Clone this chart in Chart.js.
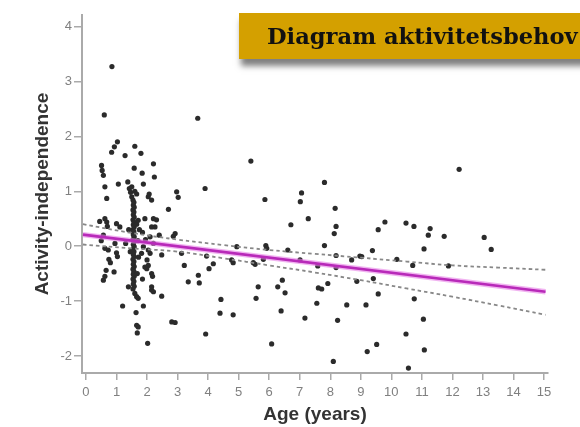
<!DOCTYPE html>
<html><head><meta charset="utf-8">
<script src="https://cdn.jsdelivr.net/npm/chart.js@4.4.1/dist/chart.umd.min.js"></script>
<style>
html,body{margin:0;padding:0;background:#fff;width:580px;height:427px;overflow:hidden}
#wrap{position:relative;width:580px;height:427px}
#c{position:absolute;left:0;top:0}
#banner{position:absolute;left:239px;top:13px;width:380px;height:46px;background:#d4a000;box-shadow:2px 7px 6px rgba(0,0,0,0.5);font-family:'DejaVu Serif',serif;font-weight:bold;font-size:22.6px;line-height:46px;padding-left:28px;box-sizing:border-box;white-space:nowrap;color:#111}
</style></head>
<body><div id="wrap"><canvas id="c" width="580" height="427" style="width:580px;height:427px"></canvas><div id="banner">Diagram aktivitetsbehov</div></div>
<script>
// infants and toddlers 0.4 - 1.4 years
const agesInfant = [0.85,0.60,1.03,0.93,0.84,0.51,0.53,0.57,0.62,0.68,1.06,1.28,0.45,0.62,0.68,0.70,1.00,1.11,0.57,0.62,0.73,0.75,0.80,1.03,1.00,0.66,0.92,0.57,0.62,1.20,1.39,0.50,0.95];
const scoresInfant = [3.27,2.39,1.90,1.81,1.71,1.47,1.38,1.29,1.08,0.87,1.13,1.65,0.45,0.50,0.44,0.36,0.41,0.35,0.20,-0.04,-0.07,-0.24,-0.30,-0.19,-0.12,-0.44,-0.47,-0.62,-0.55,-1.09,-0.74,0.10,0.05];
// 18-month column
const agesColumn = [1.42,1.46,1.50,
 1.54,1.57,1.55,1.58,1.54,1.57,1.55,1.58,1.54,1.57,1.55,1.58,1.54,1.57,1.55,1.58,1.54,1.57,1.55,1.58,1.54,1.57,1.55,1.58,1.54,1.57,1.55,1.58,1.54,1.57,1.55,1.58,1.54,1.57,1.55,1.58,1.54,
 1.60,1.66,1.71,1.64,1.66,1.71,1.68,1.70,1.72,1.66,1.68,1.75];
const scoresColumn = [1.05,0.98,0.90,
 0.84,0.80,0.75,0.71,0.66,0.62,0.57,0.53,0.48,0.44,0.39,0.35,0.30,0.26,0.21,0.17,0.12,0.08,0.03,-0.01,-0.06,-0.10,-0.15,-0.19,-0.24,-0.28,-0.33,-0.37,-0.42,-0.46,-0.51,-0.55,-0.60,-0.64,-0.69,-0.73,-0.78,
 -0.86,-0.92,-0.95,-1.21,-1.44,-1.47,-1.58,0.10,-0.20,0.40,-0.50,0.30];
// around 1.3 - 3.7 years
const agesToddler = [1.37,1.50,1.60,1.66,1.60,1.80,2.21,1.58,1.84,2.24,1.88,2.04,2.15,2.07,2.70,1.71,1.93,2.31,2.26,2.21,2.15,2.10,2.21,2.92,2.86,2.97,3.02,3.66,1.40,1.30,1.45,2.40,1.85,1.95,
 1.88,2.02,2.15,2.21,2.48,2.04,1.99,2.15,2.18,1.93,2.15,2.04,2.10,1.82,1.88,2.48,2.81,2.92,2.00,1.85];
const scoresToddler = [1.17,1.08,1.00,0.95,1.82,1.69,1.50,1.42,1.33,1.26,1.13,0.90,0.84,0.95,0.67,0.47,0.50,0.48,0.35,0.50,0.35,0.17,0.05,0.23,0.18,0.99,0.89,2.33,0.30,0.05,-0.10,0.20,0.25,0.12,
 -1.09,-1.77,-0.80,-0.83,-0.91,-0.35,-0.41,-0.50,-0.55,-0.38,-0.74,-0.07,-0.13,-0.13,-0.01,-0.16,-1.38,-1.39,-0.25,-0.60];
// 3 - 9 years
const agesChild = [5.40,3.90,7.81,7.06,7.02,5.86,8.16,7.28,6.71,8.19,8.13,7.81,5.89,5.92,4.94,6.61,8.19,8.97,8.70,3.13,3.95,4.77,4.82,5.48,5.54,5.81,7.01,7.59,8.19,3.22,4.17,4.03,8.87,3.68,3.71,3.35,5.64,6.43,6.28,6.52,7.61,7.72,7.92,5.57,4.42,7.56,8.54,4.39,4.82,6.39,7.17,8.24,3.92,6.08,8.10];
const scoresChild = [1.55,1.05,1.16,0.97,0.81,0.85,0.69,0.50,0.39,0.36,0.23,0.01,0.01,-0.04,-0.01,-0.07,-0.17,-0.18,-0.25,-0.13,-0.18,-0.25,-0.30,-0.30,-0.33,-0.24,-0.25,-0.36,-0.39,-0.35,-0.32,-0.41,-0.64,-0.53,-0.67,-0.65,-0.74,-0.62,-0.74,-0.85,-0.76,-0.78,-0.68,-0.95,-0.97,-1.04,-1.07,-1.22,-1.25,-1.18,-1.31,-1.35,-1.60,-1.78,-2.10];
// 9 - 13.5 years
const agesOlder = [12.22,9.79,9.57,10.48,10.74,11.27,11.21,11.73,13.04,13.27,9.38,11.07,9.03,10.18,10.70,11.87,9.41,9.57,9.17,10.75,11.05,10.48,9.52,9.21,11.08,10.56];
const scoresOlder = [1.40,0.44,0.30,0.42,0.36,0.32,0.20,0.18,0.16,-0.06,-0.08,-0.05,-0.19,-0.24,-0.35,-0.36,-0.59,-0.87,-1.07,-0.96,-1.33,-1.60,-1.79,-1.92,-1.89,-2.22];

const fitAges = [-0.1, 15.05];
const fitValues = [0.21, -0.83];
const bandAges = [-0.1, 1.5, 3, 4.5, 6, 7.5, 9, 10.5, 12, 13.5, 15.05];
const upperBand = [0.40, 0.24, 0.12, 0.02, -0.07, -0.14, -0.21, -0.28, -0.35, -0.39, -0.43];
const lowerBand = [0.03, -0.04, -0.10, -0.22, -0.35, -0.48, -0.62, -0.77, -0.92, -1.08, -1.25];
const xTicks = [0,1,2,3,4,5,6,7,8,9,10,11,12,13,14,15];
const yTicks = [-2,-1,0,1,2,3,4];

const ages = [].concat(agesInfant, agesColumn, agesToddler, agesChild, agesOlder);
const scores = [].concat(scoresInfant, scoresColumn, scoresToddler, scoresChild, scoresOlder);
const pts = ages.map((a,i)=>({x:a,y:scores[i]}));
const toXY = (xs,ys)=>xs.map((x,i)=>({x:x,y:ys[i]}));
const tickFont = {family:"'Liberation Sans', Arial, sans-serif", size:13};
const titleFont = {family:"'Liberation Sans', Arial, sans-serif", size:19, weight:'bold'};

new Chart(document.getElementById('c'), {
  type:'scatter',
  data:{datasets:[
    {data:toXY(fitAges,fitValues), showLine:true, borderColor:'#b82ab9', borderWidth:2.6, pointRadius:0, order:0},
    {data:toXY(fitAges,fitValues), showLine:true, borderColor:'rgba(232,130,232,0.6)', borderWidth:5.5, pointRadius:0, order:1},
    {data:toXY(bandAges,upperBand), showLine:true, borderColor:'#888', borderWidth:1.8, borderDash:[3.5,3], tension:0.4, pointRadius:0, order:2},
    {data:toXY(bandAges,lowerBand), showLine:true, borderColor:'#888', borderWidth:1.8, borderDash:[3.5,3], tension:0.4, pointRadius:0, order:2},
    {data:pts, pointRadius:2.6, pointBackgroundColor:'#2b2b2b', pointBorderWidth:0, order:3}
  ]},
  options:{
    responsive:false, animation:false,
    layout:{padding:{top:15,right:32,left:0,bottom:0}},
    plugins:{legend:{display:false}, tooltip:{enabled:false}},
    scales:{
      x:{type:'linear', min:-0.13, max:15.13,
        afterBuildTicks:s=>{s.ticks = xTicks.map(v=>({value:v}));},
        afterFit:s=>{s.height = 54;},
        ticks:{font:tickFont, color:'#808080', padding:5, maxRotation:0, autoSkip:false},
        grid:{display:true, drawOnChartArea:false, drawTicks:true, tickLength:7, color:'#aaa', lineWidth:1.5},
        border:{display:true, color:'#aaa', width:2},
        title:{display:true, text:'Age (years)', font:titleFont, color:'#333', padding:{top:0,bottom:1}}
      },
      y:{type:'linear', min:-2.31, max:4.21,
        afterBuildTicks:s=>{s.ticks = yTicks.map(v=>({value:v}));},
        afterFit:s=>{s.width = 82;},
        ticks:{font:tickFont, color:'#808080', padding:2, autoSkip:false},
        grid:{display:true, drawOnChartArea:false, drawTicks:true, tickLength:8, color:'#aaa', lineWidth:1.5},
        border:{display:true, color:'#aaa', width:2},
        title:{display:true, text:'Activity-independence', font:titleFont, color:'#333', padding:{top:31.5,bottom:0}}
      }
    }
  }
});
</script></body></html>
